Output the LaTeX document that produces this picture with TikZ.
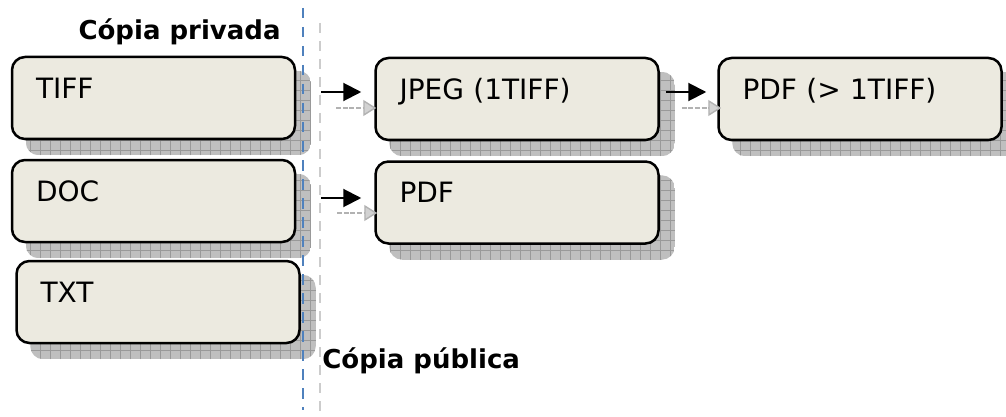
\documentclass[tikz,border=0pt]{standalone}
\usepackage{fontspec}
\setmainfont{DejaVu Sans}
\usetikzlibrary{arrows.meta,backgrounds}

\definecolor{boxfill}{RGB}{236,234,224}
\definecolor{divblue}{RGB}{79,129,189}

\tikzset{
  fmtbox/.style={draw=black, line width=1.25pt, fill=boxfill, rounded corners=6.5pt,
    minimum width=141.5pt, minimum height=41pt, text width=117.5pt, inner xsep=12pt,
    align=left, text height=10pt, text depth=10pt, font=\fontsize{14}{16}\selectfont},
  lbl/.style={font=\fontsize{13}{15}\selectfont\bfseries, inner sep=0pt},
  conv/.style={line width=1pt, -{Triangle[length=9pt,width=9pt]}},
  convgray/.style={gray!60, line width=0.7pt, dash pattern=on 2.5pt off 0.8pt,
    -{Triangle[length=6.5pt,width=8pt,fill=gray!35]}}
}

% shadow behind a box
\newcommand{\boxshadow}[1]{%
  \begin{scope}
    \path[clip, rounded corners=6.5pt] ([xshift=7.5pt,yshift=-7.5pt]#1.south west) rectangle ([xshift=7.5pt,yshift=-7.5pt]#1.north east);
    \fill[gray!50] ([xshift=7.5pt,yshift=-7.5pt]#1.south west) rectangle ([xshift=7.5pt,yshift=-7.5pt]#1.north east);
    \draw[gray!80, line width=0.4pt, step=5pt] ([xshift=7.5pt,yshift=-7.5pt]#1.south west) grid ([xshift=7.5pt,yshift=-7.5pt]#1.north east);
  \end{scope}}

\begin{document}
\begin{tikzpicture}[x=0.5pt, y=-0.5pt]
  \useasboundingbox (0,0) rectangle (1006,417);

  % formats
  \node[fmtbox] (tiff) at (153.5,98) {TIFF};
  \node[fmtbox] (doc) at (153.5,201) {DOC};
  \node[fmtbox] (txt) at (158,302) {TXT};
  \node[fmtbox] (jpeg) at (517,99) {JPEG (1TIFF)};
  \node[fmtbox] (pdfmulti) at (860,99) {PDF (> 1TIFF)};
  \node[fmtbox] (pdf) at (517,202.5) {PDF};

  \begin{scope}[on background layer]
    \foreach \n in {tiff,doc,txt,jpeg,pdfmulti,pdf} {\boxshadow{\n}}
  \end{scope}

  % divisions
  \draw[divblue, line width=1.4pt, dash pattern=on 5.25pt off 4.25pt] (303,8) -- (303,410);
  \draw[gray!40, line width=1.2pt, dash pattern=on 5pt off 4pt] (320,23) -- (320,417);
  \node[lbl, anchor=base east] (privada) at (281,40) {Cópia privada};
  \node[lbl, anchor=base west] (publica) at (322,368) {Cópia pública};

  % conversions
  \draw[conv] ([xshift=12.5pt,yshift=3pt]tiff.east) -- ([xshift=-6.5pt,yshift=3.5pt]jpeg.west);
  \draw[convgray] ([xshift=20pt,yshift=-5pt]tiff.east) -- ([xshift=1pt,yshift=-4.5pt]jpeg.west);
  \draw[conv] ([xshift=3pt,yshift=3.5pt]jpeg.east) -- ([xshift=-5.5pt,yshift=3.5pt]pdfmulti.west);
  \draw[convgray] ([xshift=11pt,yshift=-4.5pt]jpeg.east) -- ([xshift=2pt,yshift=-4.5pt]pdfmulti.west);
  \draw[conv] ([xshift=12.5pt,yshift=1.5pt]doc.east) -- ([xshift=-6.5pt,yshift=2.25pt]pdf.west);
  \draw[convgray] ([xshift=20.5pt,yshift=-6pt]doc.east) -- ([xshift=1.5pt,yshift=-5.25pt]pdf.west);
\end{tikzpicture}
\end{document}
